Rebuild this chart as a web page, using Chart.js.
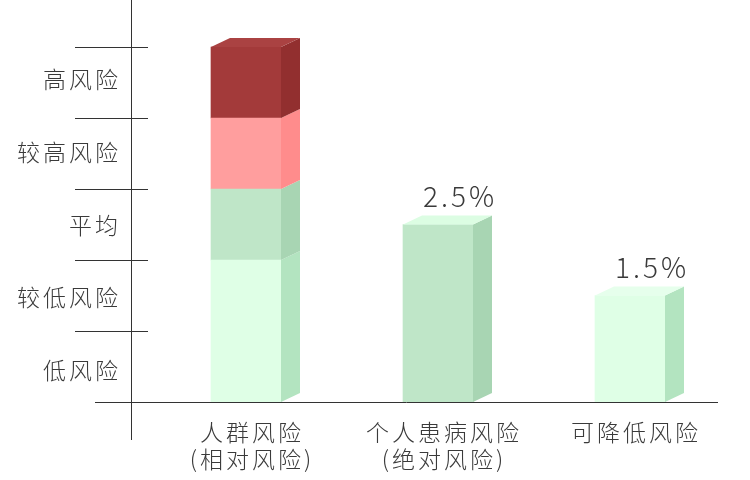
<!DOCTYPE html>
<html>
<head>
<meta charset="utf-8">
<script src="https://cdn.jsdelivr.net/npm/chart.js@4/dist/chart.umd.min.js"></script>
<style>
	body { margin: 0; background: #fff; }
	#wrap { width: 750px; height: 480px; }
</style>
</head>
<body>
<div id="wrap"><canvas id="chart"></canvas></div>
<script>
const categories = [["人群风险", "(相对风险)"], ["个人患病风险", "(绝对风险)"], ["可降低风险"]];
const riskLevels = ["低风险", "较低风险", "平均", "较高风险", "高风险"];

// stacked segments of the population bar
const lowRisk = [2, null, null];
const avgRisk = [1, null, null];
const higherRisk = [1, null, null];
const highRisk = [1, null, null];
// single bars
const personalRisk = [null, 2.5, null];
const reducibleRisk = [null, null, 1.5];

const frontColors = ["#dfffe6", "#bfe6c8", "#ff9e9e", "#a33a3a", "#bfe6c8", "#dfffe6"];
const sideColors = ["#b3e4c0", "#a8d5b3", "#ff8c8c", "#922f2f", "#a8d5b3", "#b3e4c0"];
const topColors = ["#e6ffec", "#dcfde3", "#ffb0b0", "#aa4242", "#dcfde3", "#e6ffec"];
const labelled = [4, 5];

const dx = 19, dy = 9;
const font = "'Noto Sans CJK SC', 'Noto Sans', sans-serif";
const textColor = "#3a3a3a";

const decor = {
	id: "decor",
	afterDatasetsDraw(chart) {
		const { ctx } = chart;
		const tops = {};
		chart.data.datasets.forEach((ds, i) => {
			const meta = chart.getDatasetMeta(i);
			meta.data.forEach((bar, j) => {
				if (ds.data[j] == null) return;
				const { x, y, base, width } = bar.getProps(["x", "y", "base", "width"], true);
				const r = x + width / 2;
				ctx.fillStyle = sideColors[i];
				ctx.beginPath();
				ctx.moveTo(r, y);
				ctx.lineTo(r + dx, y - dy);
				ctx.lineTo(r + dx, base - dy);
				ctx.lineTo(r, base);
				ctx.closePath();
				ctx.fill();
				if (!tops[j] || y < tops[j].y) tops[j] = { x, y, width, ds: i, value: ds.data[j] };
			});
		});
		Object.values(tops).forEach(t => {
			const l = t.x - t.width / 2, r = t.x + t.width / 2;
			ctx.fillStyle = topColors[t.ds];
			ctx.beginPath();
			ctx.moveTo(l, t.y);
			ctx.lineTo(l + dx, t.y - dy);
			ctx.lineTo(r + dx, t.y - dy);
			ctx.lineTo(r, t.y);
			ctx.closePath();
			ctx.fill();
			if (labelled.includes(t.ds)) {
				ctx.save();
				ctx.font = `300 28px ${font}`;
				ctx.letterSpacing = "3px";
				ctx.fillStyle = textColor;
				ctx.textAlign = "center";
				ctx.textBaseline = "alphabetic";
				ctx.fillText(`${t.value}%`, t.x + 22, t.y - dy - 9);
				ctx.restore();
			}
		});
	},
	afterDraw(chart) {
		const { ctx, scales: { x, y } } = chart;
		ctx.save();
		ctx.strokeStyle = "#333";
		ctx.lineWidth = 1;
		const y0 = Math.round(y.getPixelForValue(0)) + 0.5;
		ctx.beginPath();
		ctx.moveTo(131.5, 0);
		ctx.lineTo(131.5, 440);
		ctx.moveTo(95, y0);
		ctx.lineTo(718, y0);
		for (let v = 1; v <= riskLevels.length; v++) {
			const py = Math.round(y.getPixelForValue(v)) + 0.5;
			ctx.moveTo(75, py);
			ctx.lineTo(148, py);
		}
		ctx.stroke();

		ctx.fillStyle = textColor;
		ctx.font = `300 23px ${font}`;
		ctx.letterSpacing = "3px";
		ctx.textBaseline = "middle";
		ctx.textAlign = "right";
		riskLevels.forEach((lbl, i) => {
			ctx.fillText(lbl, 121, y.getPixelForValue(i + 0.5) + 4 - 1.75 * i);
		});
		ctx.textAlign = "center";
		categories.forEach((lines, i) => {
			const px = x.getPixelForValue(i) + 6;
			lines.forEach((ln, k) => ctx.fillText(ln, px, 432 + k * 27));
		});
		ctx.restore();
	},
};

const series = [lowRisk, avgRisk, higherRisk, highRisk, personalRisk, reducibleRisk];

new Chart(document.getElementById("chart"), {
	type: "bar",
	plugins: [decor],
	data: {
		labels: categories.map(c => c.join("")),
		datasets: series.map((data, i) => ({
			data,
			backgroundColor: frontColors[i],
			borderWidth: 0,
			barThickness: 70,
		})),
	},
	options: {
		responsive: true,
		maintainAspectRatio: false,
		animation: false,
		layout: { padding: { left: 150, right: 24, top: 0, bottom: 78 } },
		scales: {
			x: { stacked: true, display: false },
			y: { stacked: true, display: false, min: 0, max: 402 / 71 },
		},
		plugins: {
			legend: { display: false },
			tooltip: { enabled: false },
		},
	},
});
</script>
</body>
</html>
